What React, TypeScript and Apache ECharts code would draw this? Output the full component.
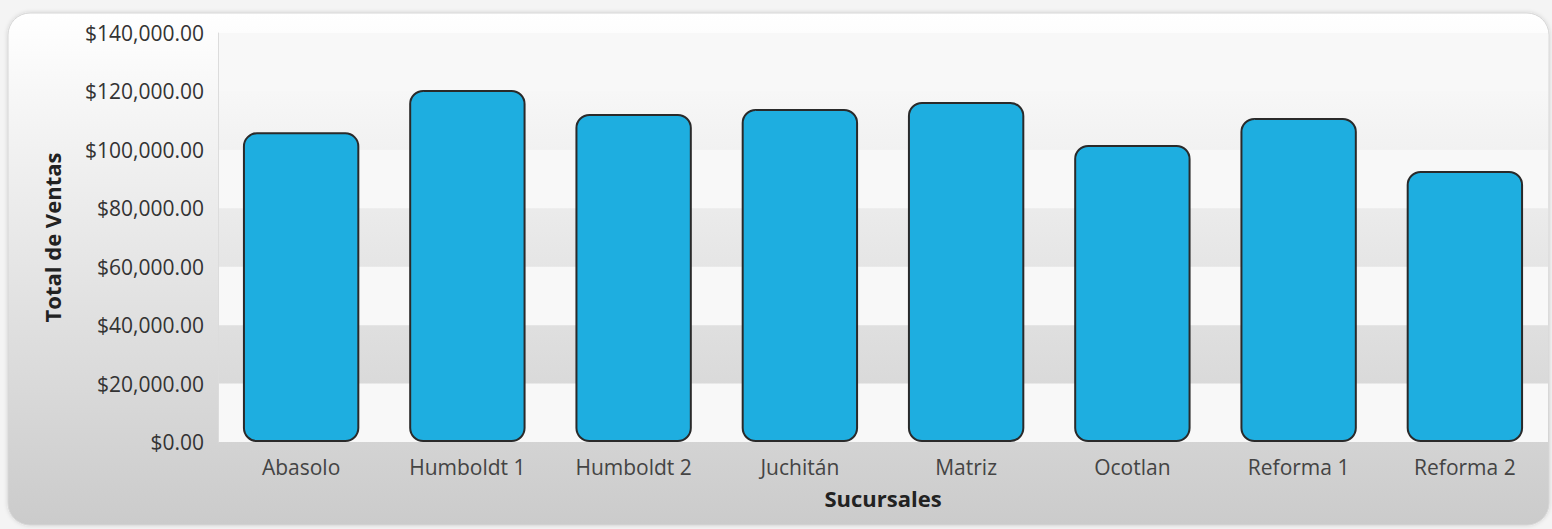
import React, { useEffect, useRef } from "react";
import * as echarts from "echarts";

const categories = ["Abasolo", "Humboldt 1", "Humboldt 2", "Juchitán", "Matriz", "Ocotlan", "Reforma 1", "Reforma 2"];
const ventas = [106000, 120500, 112300, 114000, 116400, 101700, 110900, 92800];
const yTicks = { min: 0, max: 140000, interval: 20000 };
const yName = "Total de Ventas";
const xName = "Sucursales";

const FONT = "'Open Sans', 'Noto Sans', sans-serif";

export default function App() {
  const ref = useRef<HTMLDivElement>(null);
  useEffect(() => {
    if (!ref.current) return;
    const chart = echarts.init(ref.current, null, { renderer: "svg" });
    const fmt = (v: number) =>
      "$" + v.toLocaleString("en-US", { minimumFractionDigits: 2, maximumFractionDigits: 2 });
    chart.setOption({
      animation: false,
      backgroundColor: "#f4f4f4",
      graphic: [
        {
          type: "rect",
          z: -10,
          shape: { x: 8, y: 13, width: 1541, height: 512, r: 22 },
          style: {
            fill: new echarts.graphic.LinearGradient(0, 0, 0, 1, [
              { offset: 0, color: "#ffffff" },
              { offset: 1, color: "#cbcbcb" },
            ]),
            stroke: "#d6d6d6",
            lineWidth: 1,
            shadowBlur: 4,
            shadowColor: "rgba(0,0,0,0.15)",
          },
        },
      ],
      grid: { left: 218, right: 4, top: 33, bottom: 87, containLabel: false },
      xAxis: {
        type: "category",
        data: categories,
        name: xName,
        nameLocation: "middle",
        nameGap: 45,
        nameTextStyle: { fontFamily: FONT, fontSize: 22, fontWeight: "bold", color: "#222" },
        axisLine: { show: false },
        axisTick: { show: false },
        axisLabel: { fontFamily: FONT, fontSize: 21, color: "#444", margin: 14 },
      },
      yAxis: {
        type: "value",
        min: yTicks.min,
        max: yTicks.max,
        interval: yTicks.interval,
        name: yName,
        nameLocation: "middle",
        nameGap: 155,
        nameTextStyle: { fontFamily: FONT, fontSize: 22, fontWeight: "bold", color: "#222" },
        axisLine: { show: true, lineStyle: { color: "#dcdcdc", width: 1 } },
        axisTick: { show: false },
        splitLine: { show: false },
        splitArea: { show: true, areaStyle: { color: ["#f8f8f8", "rgba(0,0,0,0)"] } },
        axisLabel: { fontFamily: FONT, fontSize: 21, color: "#333", margin: 14, formatter: fmt },
      },
      series: [
        {
          type: "bar",
          data: ventas,
          barCategoryGap: "30%",
          itemStyle: {
            color: "#1eaee0",
            borderColor: "#2a2a2a",
            borderWidth: 2,
            borderRadius: 13,
          },
        },
      ],
    });
    return () => chart.dispose();
  }, []);
  return (
    <div
      ref={ref}
      style={{ position: "absolute", left: 0, top: 0, width: 1552, height: 529 }}
    />
  );
}
